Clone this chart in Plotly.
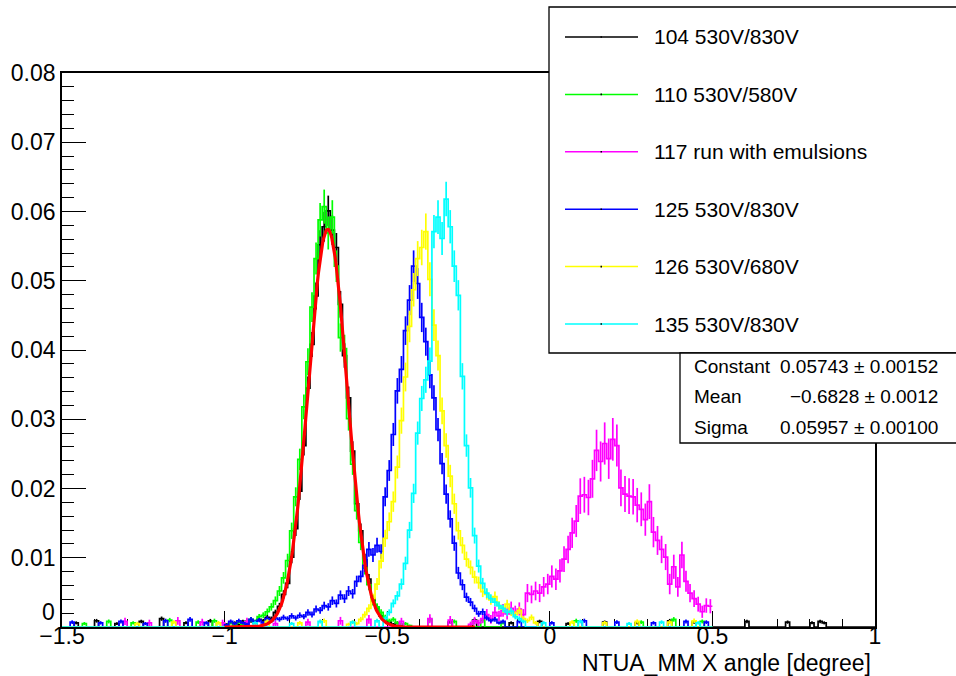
import numpy as np
import plotly.graph_objects as go

# ---------------- data ----------------
X_MIN, X_MAX = -1.5, 1.0
BIN_W = 0.0125
Y_MAX = 0.08

run_names = ["104 530V/830V", "110 530V/580V", "117 run with emulsions",
             "125 530V/830V", "126 530V/680V", "135 530V/830V"]
run_colors = ["#000000", "#00ff00", "#ff00ff", "#0000ff", "#ffff00", "#00ffff"]
run_nbins = [200, 160, 160, 160, 160, 160]

h104_first = 40
h104_values = [0.0004, 0.0000, 0.0006, 0.0003, 0.0008, 0.0005, 0.0009, 0.0006, 0.0011, 0.0009,
               0.0014, 0.0012, 0.0021, 0.0030, 0.0047, 0.0063, 0.0101, 0.0142, 0.0196, 0.0262,
               0.0345, 0.0408, 0.0478, 0.0552, 0.0578, 0.0601, 0.0573, 0.0548, 0.0466, 0.0392,
               0.0331, 0.0254, 0.0178, 0.0139, 0.0097, 0.0069, 0.0041, 0.0028, 0.0016, 0.0012,
               0.0007, 0.0004, 0.0006, 0.0002]
h104_sparse_bins = [3, 8, 13, 19, 24, 30, 36, 95, 101, 110, 117, 124, 133, 141, 149, 155,
                    168, 178, 184, 186, 187]
h104_sparse_vals = [0.0006, 0.0009, 0.0005, 0.0008, 0.0012, 0.0006, 0.0009, 0.0007, 0.0010,
                    0.0006, 0.0008, 0.0005, 0.0007, 0.0006, 0.0009, 0.0007, 0.0008, 0.0007,
                    0.0006, 0.0008, 0.0006]

h110_first = 40
h110_values = [0.0003, 0.0006, 0.0002, 0.0007, 0.0004, 0.0009, 0.0011, 0.0008, 0.0015, 0.0017,
               0.0022, 0.0029, 0.0038, 0.0052, 0.0071, 0.0096, 0.0139, 0.0188, 0.0242, 0.0318,
               0.0383, 0.0462, 0.0532, 0.0588, 0.0607, 0.0569, 0.0592, 0.0521, 0.0418, 0.0402,
               0.0301, 0.0235, 0.0168, 0.0122, 0.0085, 0.0061, 0.0037, 0.0029, 0.0021, 0.0014,
               0.0009, 0.0011, 0.0006, 0.0004, 0.0005, 0.0002]
h110_sparse_bins = [5, 11, 17, 26, 33, 37, 90, 96, 103, 108, 126, 142, 150, 157]
h110_sparse_vals = [0.0005, 0.0008, 0.0006, 0.0010, 0.0007, 0.0009, 0.0011, 0.0008, 0.0010,
                    0.0006, 0.0009, 0.0007, 0.0011, 0.0008]

h117_first = 100
h117_values = [0.0004, 0.0009, 0.0006, 0.0012, 0.0018, 0.0011, 0.0021, 0.0016, 0.0024, 0.0019,
               0.0027, 0.0022, 0.0026, 0.0018, 0.0049, 0.0047, 0.0052, 0.0049, 0.0058, 0.0062,
               0.0073, 0.0069, 0.0081, 0.0098, 0.0112, 0.0136, 0.0153, 0.0189, 0.0191, 0.0187,
               0.0214, 0.0255, 0.0239, 0.0265, 0.0243, 0.0271, 0.0262, 0.0201, 0.0192, 0.0189,
               0.0188, 0.0176, 0.0170, 0.0155, 0.0181, 0.0137, 0.0125, 0.0112, 0.0101, 0.0062,
               0.0087, 0.0058, 0.0104, 0.0066, 0.0049, 0.0041, 0.0033, 0.0022, 0.0031, 0.0030]
h117_sparse_bins = [15, 21, 28, 34, 39, 45, 52, 60, 68, 75, 83, 90, 95]
h117_sparse_vals = [0.0008, 0.0006, 0.0009, 0.0007, 0.0006, 0.0008, 0.0005, 0.0007, 0.0009,
                    0.0011, 0.0008, 0.0012, 0.0010]

h125_first = 40
h125_values = [0.0003, 0.0008, 0.0005, 0.0009, 0.0006, 0.0004, 0.0011, 0.0007, 0.0010, 0.0006,
               0.0012, 0.0009, 0.0013, 0.0011, 0.0014, 0.0012, 0.0016, 0.0013, 0.0017, 0.0015,
               0.0021, 0.0018, 0.0026, 0.0024, 0.0031, 0.0029, 0.0038, 0.0034, 0.0046, 0.0041,
               0.0052, 0.0048, 0.0066, 0.0073, 0.0089, 0.0112, 0.0104, 0.0118, 0.0109, 0.0188,
               0.0226, 0.0278, 0.0341, 0.0372, 0.0428, 0.0472, 0.0521, 0.0496, 0.0447, 0.0412,
               0.0364, 0.0331, 0.0285, 0.0236, 0.0192, 0.0156, 0.0121, 0.0078, 0.0061, 0.0043,
               0.0036, 0.0027, 0.0019, 0.0022, 0.0013, 0.0009, 0.0011, 0.0006, 0.0008]
h125_sparse_bins = [2, 9, 14, 20, 25, 31, 35, 112, 120, 128, 136, 145, 153, 158]
h125_sparse_vals = [0.0007, 0.0006, 0.0008, 0.0005, 0.0009, 0.0011, 0.0006, 0.0008, 0.0006,
                    0.0009, 0.0007, 0.0006, 0.0008, 0.0007]

h126_first = 70
h126_values = [0.0004, 0.0007, 0.0005, 0.0011, 0.0018, 0.0027, 0.0041, 0.0062, 0.0095, 0.0128,
               0.0152, 0.0181, 0.0231, 0.0298, 0.0361, 0.0434, 0.0487, 0.0532, 0.0548, 0.0571,
               0.0502, 0.0436, 0.0392, 0.0312, 0.0262, 0.0218, 0.0178, 0.0139, 0.0118, 0.0098,
               0.0086, 0.0072, 0.0064, 0.0051, 0.0047, 0.0039, 0.0044, 0.0031, 0.0026, 0.0033,
               0.0021, 0.0018, 0.0024, 0.0012, 0.0009, 0.0014, 0.0006]
h126_sparse_bins = [18, 27, 38, 50, 58, 64, 125, 133, 141, 149, 155]
h126_sparse_vals = [0.0005, 0.0007, 0.0006, 0.0008, 0.0006, 0.0009, 0.0007, 0.0006, 0.0008,
                    0.0007, 0.0009]

h135_first = 79
h135_values = [0.0012, 0.0021, 0.0034, 0.0045, 0.0062, 0.0092, 0.0140, 0.0193, 0.0280, 0.0330,
               0.0357, 0.0384, 0.0571, 0.0592, 0.0561, 0.0618, 0.0578, 0.0521, 0.0479, 0.0362,
               0.0262, 0.0201, 0.0132, 0.0088, 0.0063, 0.0049, 0.0041, 0.0036, 0.0031, 0.0027,
               0.0021, 0.0023, 0.0015, 0.0012, 0.0008]
h135_sparse_bins = [47, 56, 63, 71, 77, 118, 127, 139, 147, 156]
h135_sparse_vals = [0.0006, 0.0005, 0.0008, 0.0007, 0.0009, 0.0006, 0.0008, 0.0005, 0.0007,
                    0.0006]

# per-run error scale (error = sqrt(value * scale))
run_err_scale = [8e-5, 1e-4, 3.5e-4, 1e-4, 1.2e-4, 1e-4]

# Gaussian fit to run 104 (stats box)
fit_constant, fit_constant_err = 0.05743, 0.00152
fit_mean, fit_mean_err = -0.6828, 0.0012
fit_sigma, fit_sigma_err = 0.05957, 0.00100
fit_range = (-1.0, -0.23)

x_tick_vals = [-1.5, -1.0, -0.5, 0.0, 0.5, 1.0]
x_tick_text = ["\u22121.5", "\u22121", "\u22120.5", "0", "0.5", "1"]
y_tick_vals = [0, 0.01, 0.02, 0.03, 0.04, 0.05, 0.06, 0.07, 0.08]
y_tick_text = ["0", "0.01", "0.02", "0.03", "0.04", "0.05", "0.06", "0.07", "0.08"]
x_title = "NTUA_MM X angle [degree]"

stat_labels = ["Constant", "Mean", "Sigma"]
stat_texts = ["0.05743 \u00b1 0.00152", "\u22120.6828 \u00b1 0.0012", "0.05957 \u00b1 0.00100"]

# ---------------- figure ----------------
W, H = 956, 676
L, R, T, B = 62, 81, 73, 49
PW, PH = W - L - R, H - T - B
FONT = "Liberation Sans, Arial, Helvetica, sans-serif"


def px_x(px):
    return (px - L) / PW


def px_y(py):
    return (H - B - py) / PH


def build(nbins, first, vals, sp_bins, sp_vals):
    y = np.zeros(nbins)
    y[first:first + len(vals)] = vals
    for b, v in zip(sp_bins, sp_vals):
        y[b] = v
    x = X_MIN + BIN_W * (np.arange(nbins) + 0.5)
    return x, y


hists = [
    (h104_first, h104_values, h104_sparse_bins, h104_sparse_vals),
    (h110_first, h110_values, h110_sparse_bins, h110_sparse_vals),
    (h117_first, h117_values, h117_sparse_bins, h117_sparse_vals),
    (h125_first, h125_values, h125_sparse_bins, h125_sparse_vals),
    (h126_first, h126_values, h126_sparse_bins, h126_sparse_vals),
    (h135_first, h135_values, h135_sparse_bins, h135_sparse_vals),
]

fig = go.Figure()
for i, (first, vals, sb, sv) in enumerate(hists):
    x, y = build(run_nbins[i], first, vals, sb, sv)
    xs = np.concatenate([[x[0] - BIN_W / 2], x, [x[-1] + BIN_W / 2]])
    ys = np.concatenate([[y[0]], y, [y[-1]]])
    fig.add_trace(go.Scatter(x=xs, y=ys, mode="lines", line=dict(color=run_colors[i], width=1.7, shape="hvh"),
                             showlegend=False, hoverinfo="skip"))
    err = np.sqrt(y * run_err_scale[i])
    fig.add_trace(go.Scatter(x=x, y=y, mode="markers", marker=dict(size=0.1, color=run_colors[i], opacity=0),
                             error_y=dict(type="data", array=err, visible=True, color=run_colors[i],
                                          thickness=1.7, width=0),
                             showlegend=False, hoverinfo="skip"))

fx = np.linspace(fit_range[0], fit_range[1], 300)
fy = fit_constant * np.exp(-0.5 * ((fx - fit_mean) / fit_sigma) ** 2)
fig.add_trace(go.Scatter(x=fx, y=fy, mode="lines", line=dict(color="#ff0000", width=3.2),
                         showlegend=False, hoverinfo="skip"))

shapes = []
annotations = []
# legend box
LEG_X0, LEG_X1, LEG_Y0, LEG_Y1 = 549, 958, 7, 353
shapes.append(dict(type="rect", xref="paper", yref="paper", x0=px_x(LEG_X0), x1=px_x(LEG_X1),
                   y0=px_y(LEG_Y1), y1=px_y(LEG_Y0), fillcolor="white",
                   line=dict(color="black", width=1.3), layer="above"))
for i, name in enumerate(run_names):
    cy = 37 + i * 57.4
    shapes.append(dict(type="line", xref="paper", yref="paper", x0=px_x(565), x1=px_x(638),
                       y0=px_y(cy), y1=px_y(cy), line=dict(color=run_colors[i], width=1.5), layer="above"))
    shapes.append(dict(type="rect", xref="paper", yref="paper", x0=px_x(600.5), x1=px_x(602),
                       y0=px_y(cy + 0.8), y1=px_y(cy - 0.8), fillcolor="black",
                       line=dict(width=0), layer="above"))
    annotations.append(dict(text=name, xref="paper", yref="paper", x=px_x(652), y=px_y(cy),
                            xanchor="left", yanchor="middle", showarrow=False,
                            font=dict(family=FONT, size=21, color="black")))

# stats box
ST_X0, ST_X1, ST_Y0, ST_Y1 = 680, 958, 353, 443
shapes.append(dict(type="rect", xref="paper", yref="paper", x0=px_x(ST_X0), x1=px_x(ST_X1),
                   y0=px_y(ST_Y1), y1=px_y(ST_Y0), fillcolor="white",
                   line=dict(color="black", width=1.3), layer="above"))
for j, (lab, txt) in enumerate(zip(stat_labels, stat_texts)):
    cy = 366 + j * 30.5
    annotations.append(dict(text=lab, xref="paper", yref="paper", x=px_x(692), y=px_y(cy),
                            xanchor="left", yanchor="middle", showarrow=False,
                            font=dict(family=FONT, size=19, color="black")))
    annotations.append(dict(text=txt, xref="paper", yref="paper", x=px_x(940), y=px_y(cy),
                            xanchor="right", yanchor="middle", showarrow=False,
                            font=dict(family=FONT, size=19, color="black")))

# y label "0" sits a little above the axis in the reference
annotations.append(dict(text=y_tick_text[0], xref="paper", yref="paper", x=px_x(57), y=px_y(612),
                        xanchor="right", yanchor="middle", showarrow=False,
                        font=dict(family=FONT, size=23, color="black")))

# x-axis title
annotations.append(dict(text=x_title, xref="paper", yref="paper", x=px_x(873), y=px_y(663),
                        xanchor="right", yanchor="middle", showarrow=False,
                        font=dict(family=FONT, size=23, color="black")))

fig.update_layout(
    width=W, height=H,
    margin=dict(l=L, r=R, t=T, b=B, pad=0),
    paper_bgcolor="white", plot_bgcolor="white",
    showlegend=False,
    shapes=shapes, annotations=annotations,
    font=dict(family=FONT, size=23, color="black"),
)
fig.update_xaxes(range=[X_MIN, X_MAX], tickmode="array", tickvals=x_tick_vals, ticktext=x_tick_text,
                 ticks="inside", ticklen=16, tickwidth=1.3, tickcolor="black",
                 minor=dict(dtick=0.1, tick0=-1.5, ticks="inside", ticklen=8, tickwidth=1.3, tickcolor="black"),
                 showline=True, linecolor="black", linewidth=1.6, mirror=True,
                 showgrid=False, zeroline=False, layer="below traces",
                 ticklabelstandoff=-12,
                 tickfont=dict(family=FONT, size=23, color="black"))
fig.update_yaxes(range=[0, Y_MAX], tickmode="array", tickvals=y_tick_vals,
                 ticktext=[""] + y_tick_text[1:],
                 ticks="inside", ticklen=24, tickwidth=1.3, tickcolor="black",
                 minor=dict(dtick=0.002, tick0=0, ticks="inside", ticklen=12, tickwidth=1.3, tickcolor="black"),
                 showline=True, linecolor="black", linewidth=1.6, mirror=True,
                 showgrid=False, zeroline=False, layer="below traces",
                 tickfont=dict(family=FONT, size=23, color="black"))

fig.write_html("out.html")
